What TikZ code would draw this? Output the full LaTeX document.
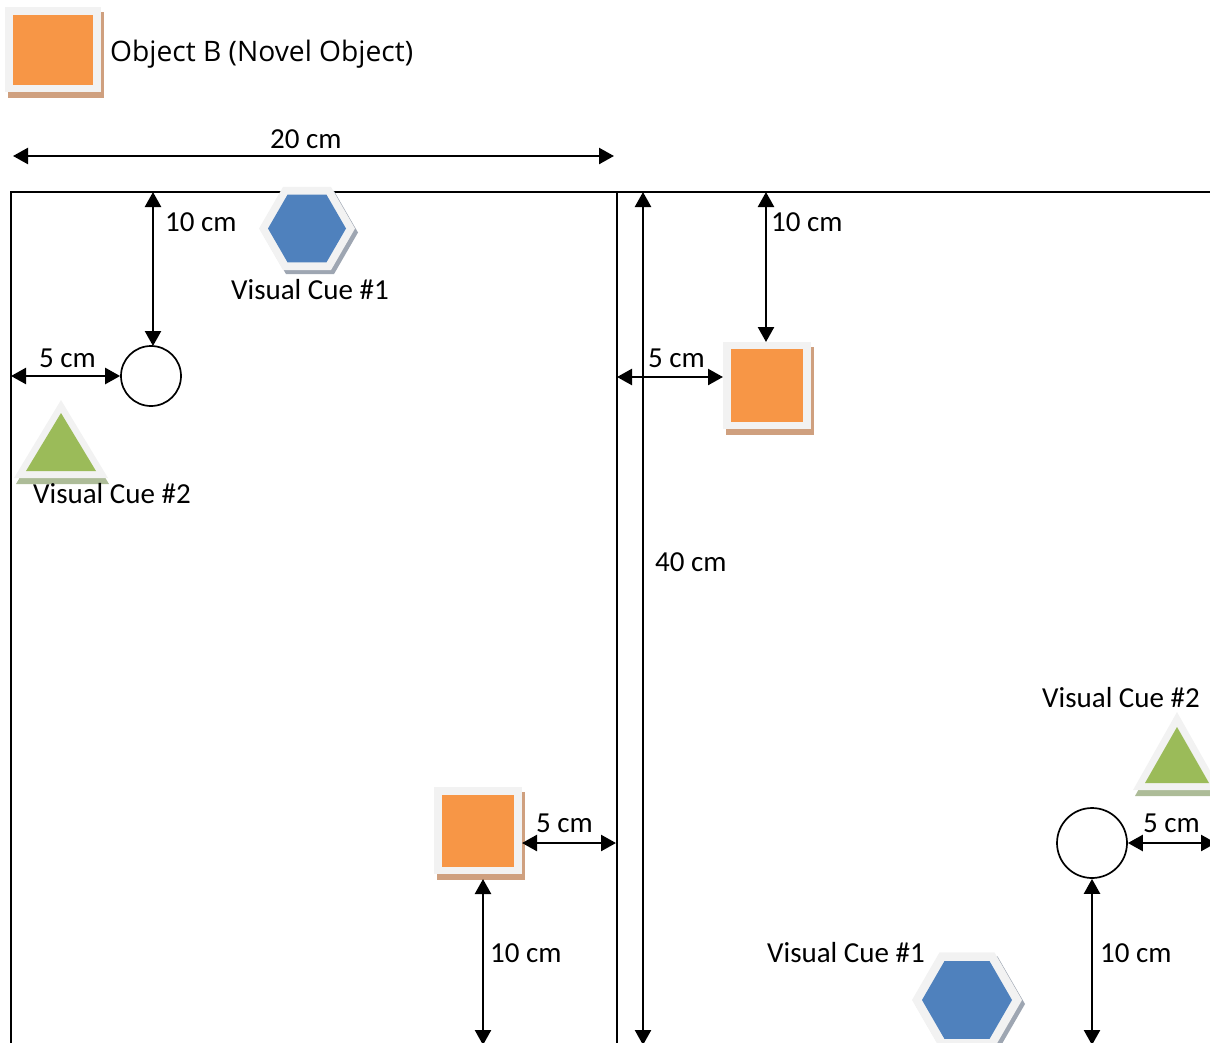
\documentclass[tikz,border=0pt]{standalone}
\usepackage{fontspec}
\setmainfont{Carlito}
\newfontfamily\legendfont{Open Sans}
\usetikzlibrary{shapes.geometric,arrows.meta}
\definecolor{objorange}{HTML}{F79646}
\definecolor{cueblue}{HTML}{4F81BD}
\definecolor{cuegreen}{HTML}{9BBB59}
\definecolor{framegray}{HTML}{F2F2F2}
\definecolor{shadowtan}{HTML}{CFA07F}
\definecolor{shadowgray}{HTML}{9EA6B2}
\definecolor{shadowgreen}{HTML}{ADBC98}
\tikzset{
  lbl/.style={anchor=base west, inner sep=0pt, font=\fontsize{29}{34}\selectfont},
  dimarrow/.style={line width=2.4pt, {Triangle[length=15pt,width=16pt]}-{Triangle[length=15pt,width=16pt]}},
  wall/.style={line width=1.7pt},
  spot/.style={circle, draw, line width=1.7pt, fill=white, inner sep=0pt},
  sqframe/.style={rectangle, fill=framegray, inner sep=0pt},
  sqfill/.style={rectangle, fill=objorange, inner sep=0pt},
  hexframe/.style={regular polygon, regular polygon sides=6, fill=framegray, inner sep=0pt},
  hexfill/.style={regular polygon, regular polygon sides=6, fill=cueblue, inner sep=0pt},
  hexshadow/.style={regular polygon, regular polygon sides=6, fill=shadowgray, inner sep=0pt},
}
% name, cx, cy, outer w, outer h, inner w, inner h
\newcommand\objsquare[7]{%
  \fill[shadowtan] (#2-#4/2+3, #3-#5/2+5) rectangle (#2+#4/2+3, #3+#5/2+6);
  \node[sqframe, minimum width=#4, minimum height=#5] (#1) at (#2,#3) {};
  \node[sqfill, minimum width=#6, minimum height=#7] (#1in) at (#1.center) {};
}
% name, cx, cy, outer size, inner size
\newcommand\cuehex[5]{%
  \node[hexshadow, minimum size=#4] at (#2+3,#3+4) {};
  \node[hexframe, minimum size=#4] (#1) at (#2,#3) {};
  \node[hexfill, minimum size=#5] (#1in) at (#1.center) {};
}
% name, apex x, apex y, base y, half width, inner apex y, inner base y, inner half width
\newcommand\cuetri[8]{%
  \coordinate (#1) at (#2,#3);
  \fill[shadowgreen] (#2+1,#3+6) -- (#2-#5+2,#4+6) -- (#2+#5+1,#4+6) -- cycle;
  \fill[framegray] (#1) -- (#2-#5,#4) -- (#2+#5,#4) -- cycle;
  \fill[cuegreen] (#2,#6) -- (#2-#8,#7) -- (#2+#8,#7) -- cycle;
}
\begin{document}
\begin{tikzpicture}[x=1pt,y=-1pt]
\useasboundingbox (0,0) rectangle (1210,1042);

% legend
\objsquare{legend}{53}{49.5}{96}{85}{80}{70}
\node[lbl, font=\legendfont\fontsize{28.2}{33}\selectfont] (legendtxt) at (110,61) {Object B (Novel Object)};

% 20 cm
\coordinate (wl) at (13,156);
\coordinate (wr) at (614,156);
\draw[dimarrow] (wl) -- (wr);
\node[lbl] (w20) at (270,148) {20 cm};

% walls
\coordinate (tl) at (11,192);
\coordinate (tr) at (1215,192);
\coordinate (bl) at (11,1050);
\coordinate (mt) at (617,192);
\coordinate (mb) at (617,1050);
\draw[wall] (bl) -- (tl) -- (tr);
\draw[wall] (mt) -- (mb);

% ---------- left arena ----------
\node[spot, minimum size=60] (c1) at (151,376) {};
\coordinate (c1top) at (153,192);
\coordinate (c1n) at (153,346);
\draw[dimarrow] (c1top) -- (c1n);
\node[lbl] at (165,231) {10 cm};
\coordinate (c1left) at (tl |- c1.west);
\draw[dimarrow] (c1left) -- (c1.west);
\node[lbl] at (39,367) {5 cm};

\cuehex{h1}{307}{228.5}{96}{78}
\node[lbl] at (231,299) {Visual Cue \#1};

\cuetri{t1}{61}{400}{478}{47}{413}{471}{35}
\node[lbl] at (33,503) {Visual Cue \#2};

\objsquare{s1}{478}{830.5}{88}{87}{72}{72}
\coordinate (s1e) at (522,843);
\coordinate (s1r) at (616,843);
\draw[dimarrow] (s1e) -- (s1r);
\node[lbl] at (536,832) {5 cm};
\coordinate (s1s) at (483,879);
\coordinate (s1b) at (483,1045);
\draw[dimarrow] (s1s) -- (s1b);
\node[lbl] at (490,962) {10 cm};

% ---------- right arena ----------
\coordinate (v40t) at (643,192);
\coordinate (v40b) at (643,1045);
\draw[dimarrow] (v40t) -- (v40b);
\node[lbl] at (655,571) {40 cm};

\objsquare{s2}{767}{385.5}{88}{87}{72}{73}
\coordinate (s2top) at (766,192);
\coordinate (s2n) at (766,342);
\draw[dimarrow] (s2top) -- (s2n);
\node[lbl] at (771,231) {10 cm};
\coordinate (s2l) at (617,377);
\coordinate (s2w) at (723,377);
\draw[dimarrow] (s2l) -- (s2w);
\node[lbl] at (648,367) {5 cm};

\node[lbl] at (1042,707) {Visual Cue \#2};
\cuetri{t2}{1177}{712}{790}{44}{727}{783}{32}

\node[spot, minimum size=70] (c2) at (1092,843) {};
\coordinate (c2r) at (1216,843);
\draw[dimarrow] (c2.east) -- (c2r);
\node[lbl] at (1143,832) {5 cm};
\coordinate (c2b) at (1092,1045);
\draw[dimarrow] (c2.south) -- (c2b);
\node[lbl] at (1100,962) {10 cm};

\cuehex{h2}{967}{1000}{110}{90}
\node[lbl] at (767,962) {Visual Cue \#1};
\end{tikzpicture}
\end{document}
